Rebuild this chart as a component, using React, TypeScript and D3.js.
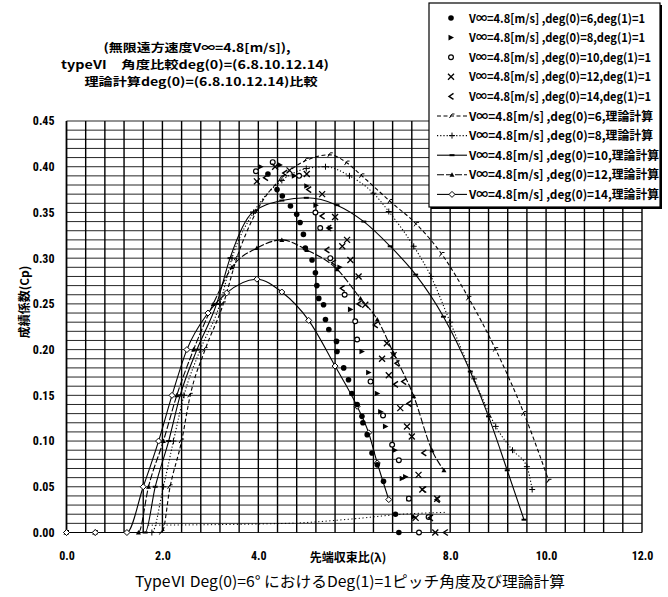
import { useEffect, useRef } from 'react'
import * as d3 from 'd3'

type Pt = [number, number]

const W = 668
const H = 597

const FONT_NUM = "'Liberation Sans Narrow', 'Roboto Condensed', 'Liberation Sans', sans-serif"
const FONT_JP = "'Noto Sans CJK JP', 'Noto Sans', sans-serif"

// ── 軸 ─────────────────────────────────────────────
const Y_TICKS = [0, 0.05, 0.1, 0.15, 0.2, 0.25, 0.3, 0.35, 0.4, 0.45]
const X_TICKS = [0, 2, 4, 8, 10, 12]
const X_LABEL = '先端収束比(λ)'
const Y_LABEL = '成績係数(Cp)'
const TITLE_LINES = [
  '(無限遠方速度V∞=4.8[m/s]),',
  'typeⅥ　角度比較deg(0)=(6.8.10.12.14)',
  '理論計算deg(0)=(6.8.10.12.14)比較',
]
const CAPTION = 'TypeⅥ  Deg(0)=6°  におけるDeg(1)=1ピッチ角度及び理論計算'

// ── 実験値 (deg(1)=1) ────────────────────────────────
const exp6: Pt[] = [
  [4.2, 0.392], [4.39, 0.375], [4.5, 0.368], [4.67, 0.357], [4.8, 0.348], [4.87, 0.339],
  [4.94, 0.326], [4.98, 0.311], [5.12, 0.298], [5.19, 0.284], [5.22, 0.27], [5.26, 0.256],
  [5.36, 0.249], [5.4, 0.233], [5.47, 0.222], [5.63, 0.209], [5.64, 0.198], [5.78, 0.18],
  [5.88, 0.167], [5.95, 0.152], [6.06, 0.14], [6.16, 0.127], [6.18, 0.12], [6.27, 0.107],
  [6.37, 0.087], [6.48, 0.074], [6.61, 0.056], [6.86, 0.02], [6.93, 0.0],
]
const exp8: Pt[] = [
  [4.05, 0.4], [4.45, 0.402], [4.75, 0.39], [5.01, 0.379], [5.2, 0.358], [5.5, 0.333],
  [5.7, 0.29], [5.92, 0.244], [6.16, 0.198], [6.3, 0.175], [6.48, 0.152], [6.55, 0.132],
  [6.65, 0.116], [6.85, 0.09], [7.0, 0.059], [7.07, 0.061], [7.14, 0.037], [7.24, 0.017],
]
const exp10: Pt[] = [
  [3.95, 0.395], [4.3, 0.405], [4.85, 0.39], [5.19, 0.35], [5.29, 0.333], [5.5, 0.3],
  [5.8, 0.26], [6.02, 0.231], [6.06, 0.211], [6.34, 0.165], [6.6, 0.128], [6.79, 0.096],
  [6.93, 0.079], [7.14, 0.037], [7.55, 0.017], [7.35, 0.0],
]
const exp12: Pt[] = [
  [3.97, 0.384], [4.35, 0.4], [4.65, 0.396], [5.01, 0.392], [5.33, 0.37], [5.6, 0.345],
  [5.75, 0.313], [5.85, 0.32], [5.92, 0.298], [6.09, 0.28], [6.23, 0.249], [6.58, 0.19],
  [6.68, 0.207], [6.82, 0.194], [6.72, 0.172], [6.96, 0.136], [7.1, 0.116], [7.2, 0.105],
  [7.34, 0.063], [7.42, 0.047], [7.28, 0.016], [7.73, 0.037], [7.69, 0.0],
]
const exp14: Pt[] = [
  [4.15, 0.388], [4.55, 0.393], [5.05, 0.375], [5.33, 0.346], [5.47, 0.333], [5.43, 0.309],
  [5.57, 0.295], [5.75, 0.267], [6.1, 0.25], [6.44, 0.227], [6.89, 0.185], [6.86, 0.162],
  [7.03, 0.165], [7.14, 0.141], [7.45, 0.087], [7.45, 0.047], [7.73, 0.036], [7.59, 0.016],
  [7.9, 0.0],
]

// ── 理論計算 ─────────────────────────────────────────
const th6: Pt[] = [
  [0, 0], [0.6, 0], [1.99, 0], [2.16, 0.05], [2.4, 0.1], [2.58, 0.15], [2.89, 0.2],
  [3.27, 0.25], [3.55, 0.3], [3.95, 0.35], [4.49, 0.388], [5.0, 0.407], [5.5, 0.413],
  [5.85, 0.404], [6.16, 0.39], [6.75, 0.362], [7.3, 0.337], [7.83, 0.304], [8.39, 0.256],
  [8.95, 0.2], [9.54, 0.13], [10.06, 0.056],
]
const th8: Pt[] = [
  [0, 0], [0.6, 0], [1.78, 0], [2.02, 0.05], [2.23, 0.1], [2.45, 0.15], [2.79, 0.2],
  [3.2, 0.25], [3.45, 0.3], [3.9, 0.35], [4.49, 0.385], [5.0, 0.398], [5.4, 0.4],
  [5.9, 0.39], [6.4, 0.371], [6.72, 0.351], [7.24, 0.313], [7.6, 0.28], [8.0, 0.23],
  [8.5, 0.168], [8.95, 0.116], [9.3, 0.09], [9.6, 0.072], [9.71, 0.047],
]
const th10: Pt[] = [
  [0, 0], [0.6, 0], [1.64, 0], [1.85, 0.05], [2.13, 0.1], [2.37, 0.15], [2.72, 0.2],
  [3.13, 0.25], [3.41, 0.3], [3.88, 0.35], [4.49, 0.363], [5.0, 0.366], [5.64, 0.358],
  [6.2, 0.34], [6.75, 0.313], [7.28, 0.282], [7.86, 0.236], [8.42, 0.176], [8.8, 0.127],
  [9.19, 0.068], [9.54, 0.014],
]
const th12: Pt[] = [
  [0, 0], [0.6, 0], [1.5, 0], [1.71, 0.05], [2.02, 0.1], [2.3, 0.15], [2.65, 0.2],
  [3.06, 0.25], [3.45, 0.29], [3.97, 0.311], [4.49, 0.32], [5.01, 0.309], [5.64, 0.288],
  [6.13, 0.256], [6.48, 0.233], [6.82, 0.196], [7.24, 0.149], [7.62, 0.09], [7.87, 0.068],
]
const th14: Pt[] = [
  [0, 0], [0.6, 0], [1.26, 0], [1.6, 0.05], [1.92, 0.1], [2.2, 0.15], [2.51, 0.2],
  [2.95, 0.24], [3.34, 0.262], [3.97, 0.277], [4.49, 0.263], [5.05, 0.232], [5.6, 0.182],
  [6.06, 0.138], [6.3, 0.109], [6.48, 0.076], [6.72, 0.036],
]
// 0 付近の点線
const baseTrace: Pt[] = [[1.7, 0.008], [4.6, 0.01], [6.0, 0.015], [7.0, 0.02], [7.9, 0.022]]

const EXP_SERIES = [
  { label: 'V∞=4.8[m/s] ,deg(0)=6,deg(1)=1', data: exp6, marker: 'dot', len: 176 },
  { label: 'V∞=4.8[m/s] ,deg(0)=8,deg(1)=1', data: exp8, marker: 'arrow', len: 176 },
  { label: 'V∞=4.8[m/s] ,deg(0)=10,deg(1)=1', data: exp10, marker: 'ring', len: 182 },
  { label: 'V∞=4.8[m/s] ,deg(0)=12,deg(1)=1', data: exp12, marker: 'cross', len: 182 },
  { label: 'V∞=4.8[m/s] ,deg(0)=14,deg(1)=1', data: exp14, marker: 'chev', len: 182 },
]
const TH_SERIES = [
  { label: 'V∞=4.8[m/s] ,deg(0)=6,理論計算', data: th6, marker: 'hook', dash: '4,2.5', len: 184 },
  { label: 'V∞=4.8[m/s] ,deg(0)=8,理論計算', data: th8, marker: 'plus', dash: '1.2,2', len: 184 },
  { label: 'V∞=4.8[m/s] ,deg(0)=10,理論計算', data: th10, marker: 'bar', dash: null, len: 190 },
  { label: 'V∞=4.8[m/s] ,deg(0)=12,理論計算', data: th12, marker: 'triUp', dash: '7,2', len: 190 },
  { label: 'V∞=4.8[m/s] ,deg(0)=14,理論計算', data: th14, marker: 'diamond', dash: null, len: 190 },
]

function drawMarker(g: any, kind: string, cx: number, cy: number) {
  const s = (d: string, w = 1.2) =>
    g.append('path').attr('d', d).attr('fill', 'none').attr('stroke', '#000').attr('stroke-width', w)
  switch (kind) {
    case 'dot':
      g.append('circle').attr('cx', cx).attr('cy', cy).attr('r', 2.8).attr('fill', '#000')
      break
    case 'arrow':
      g.append('path').attr('d', `M${cx - 2.5},${cy - 2.8}L${cx + 3},${cy}L${cx - 2.5},${cy + 2.8}Z`).attr('fill', '#000')
      break
    case 'ring':
      g.append('circle').attr('cx', cx).attr('cy', cy).attr('r', 2.4)
        .attr('fill', '#fff').attr('stroke', '#000').attr('stroke-width', 1.2)
      break
    case 'cross':
      s(`M${cx - 3},${cy - 3}L${cx + 3},${cy + 3}M${cx - 3},${cy + 3}L${cx + 3},${cy - 3}`, 1.3)
      break
    case 'chev':
      s(`M${cx + 2.5},${cy - 3}L${cx - 2},${cy}L${cx + 2.5},${cy + 3}`, 1.4)
      break
    case 'hook':
      s(`M${cx - 2.5},${cy + 2}L${cx},${cy - 2}L${cx + 2.5},${cy - 2}`, 1)
      break
    case 'plus':
      s(`M${cx - 3},${cy}L${cx + 3},${cy}M${cx},${cy - 3}L${cx},${cy + 3}`, 1)
      break
    case 'bar':
      s(`M${cx - 2.5},${cy}L${cx + 2.5},${cy}`, 2)
      break
    case 'triUp':
      g.append('path').attr('d', `M${cx - 2.5},${cy + 2}L${cx},${cy - 2.5}L${cx + 2.5},${cy + 2}Z`).attr('fill', '#000')
      break
    case 'diamond':
      g.append('path').attr('d', `M${cx},${cy - 3}L${cx + 3},${cy}L${cx},${cy + 3}L${cx - 3},${cy}Z`)
        .attr('fill', '#fff').attr('stroke', '#000').attr('stroke-width', 1)
      break
  }
}

export default function App() {
  const svgRef = useRef<SVGSVGElement>(null)

  useEffect(() => {
    if (!svgRef.current) return
    const svg = d3.select(svgRef.current)
    svg.selectAll('*').remove()

    const x = d3.scaleLinear().domain([0, 12]).range([66.5, 642])
    const y = d3.scaleLinear().domain([0, 0.45]).range([532.5, 121])

    svg.append('rect').attr('width', W).attr('height', H).attr('fill', '#fff')

    // Grid
    const grid = svg.append('g')
    d3.range(0, 0.4501, 0.01).forEach(v => {
      grid.append('line')
        .attr('x1', x(0)).attr('x2', x(12)).attr('y1', y(v)).attr('y2', y(v))
        .attr('stroke', '#262626').attr('stroke-width', 1)
    })
    d3.range(0, 12.001, 0.4).forEach(v => {
      grid.append('line')
        .attr('x1', x(v)).attr('x2', x(v)).attr('y1', y(0)).attr('y2', y(0.45))
        .attr('stroke', '#000').attr('stroke-width', v === 0 ? 1.8 : 1.4)
    })

    // Axes
    svg.append('g').attr('transform', `translate(${x(0)},0)`)
      .call(d3.axisLeft(y).tickValues(Y_TICKS).tickFormat(d3.format('.2f')).tickSize(0).tickPadding(12))
      .call(ax => ax.select('.domain').remove())
      .call(ax => ax.selectAll('text').attr('fill', '#000').attr('font-size', '12px')
        .attr('font-weight', 'bold').attr('font-family', FONT_NUM))

    svg.append('g').attr('transform', `translate(0,${y(0)})`)
      .call(d3.axisBottom(x).tickValues(X_TICKS).tickFormat(d3.format('.1f')).tickSize(0).tickPadding(19))
      .call(ax => ax.select('.domain').remove())
      .call(ax => ax.selectAll('text').attr('fill', '#000').attr('font-size', '12px')
        .attr('font-weight', 'bold').attr('font-family', FONT_NUM))

    svg.append('text')
      .attr('x', 348).attr('y', 562).attr('text-anchor', 'middle')
      .attr('font-family', FONT_JP).attr('font-weight', 'bold').attr('font-size', '12px')
      .text(X_LABEL)

    svg.append('text')
      .attr('transform', `translate(29,302) rotate(-90)`).attr('text-anchor', 'middle')
      .attr('font-family', FONT_JP).attr('font-weight', 'bold').attr('font-size', '12px')
      .text(Y_LABEL)

    // Titles
    const titlePos = [{ cx: 197, cy: 52, len: 187 }, { cx: 195, cy: 69, len: 268 }, { cx: 201, cy: 86, len: 233 }]
    TITLE_LINES.forEach((t, i) => {
      svg.append('text')
        .attr('x', titlePos[i].cx).attr('y', titlePos[i].cy).attr('text-anchor', 'middle')
        .attr('font-family', FONT_JP).attr('font-weight', 'bold').attr('font-size', '11.5px')
        .attr('textLength', titlePos[i].len).attr('lengthAdjust', 'spacingAndGlyphs')
        .text(t)
    })

    svg.append('text')
      .attr('x', 350).attr('y', 587).attr('text-anchor', 'middle')
      .attr('font-family', FONT_JP).attr('font-size', '15px')
      .attr('textLength', 430).attr('lengthAdjust', 'spacingAndGlyphs')
      .text(CAPTION)

    // Theory lines
    const line = d3.line<Pt>().x(d => x(d[0])).y(d => y(d[1])).curve(d3.curveMonotoneX)
    const plot = svg.append('g')

    plot.append('path').datum(baseTrace).attr('d', line)
      .attr('fill', 'none').attr('stroke', '#000').attr('stroke-width', 1).attr('stroke-dasharray', '1.2,2.5')

    TH_SERIES.forEach(s => {
      plot.append('path').datum(s.data).attr('d', line)
        .attr('fill', 'none').attr('stroke', '#000').attr('stroke-width', 1.1)
        .attr('stroke-dasharray', s.dash)
      s.data.forEach(d => drawMarker(plot, s.marker, x(d[0]), y(d[1])))
    })

    // Experimental points
    EXP_SERIES.forEach(s => {
      s.data.forEach(d => drawMarker(plot, s.marker, x(d[0]), y(d[1])))
    })

    // Legend
    const lg = svg.append('g')
    const LX = 429, LY = 3, LW = 231, LH = 204
    lg.append('rect').attr('x', LX + 2).attr('y', LY + 2).attr('width', LW).attr('height', LH).attr('fill', '#000')
    lg.append('rect').attr('x', LX).attr('y', LY).attr('width', LW).attr('height', LH)
      .attr('fill', '#fff').attr('stroke', '#000').attr('stroke-width', 1.2)

    const all = [...EXP_SERIES.map(s => ({ ...s, dash: undefined, theory: false })),
      ...TH_SERIES.map(s => ({ ...s, theory: true }))]
    all.forEach((s, i) => {
      const cy = 18 + i * 19.6
      if (s.theory) {
        lg.append('line').attr('x1', 437).attr('x2', 467).attr('y1', cy).attr('y2', cy)
          .attr('stroke', '#000').attr('stroke-width', 1.1).attr('stroke-dasharray', s.dash)
        drawMarker(lg, s.marker, 452, cy)
      } else {
        drawMarker(lg, s.marker, 451, cy)
      }
      lg.append('text')
        .attr('x', 469).attr('y', cy + 4.5)
        .attr('font-family', FONT_JP).attr('font-weight', 'bold').attr('font-size', '12px')
        .attr('textLength', s.len).attr('lengthAdjust', 'spacingAndGlyphs')
        .text(s.label)
    })
  }, [])

  return (
    <svg
      ref={svgRef}
      width={W}
      height={H}
      style={{ position: 'absolute', left: 0, top: 0, display: 'block', background: '#fff' }}
    />
  )
}
